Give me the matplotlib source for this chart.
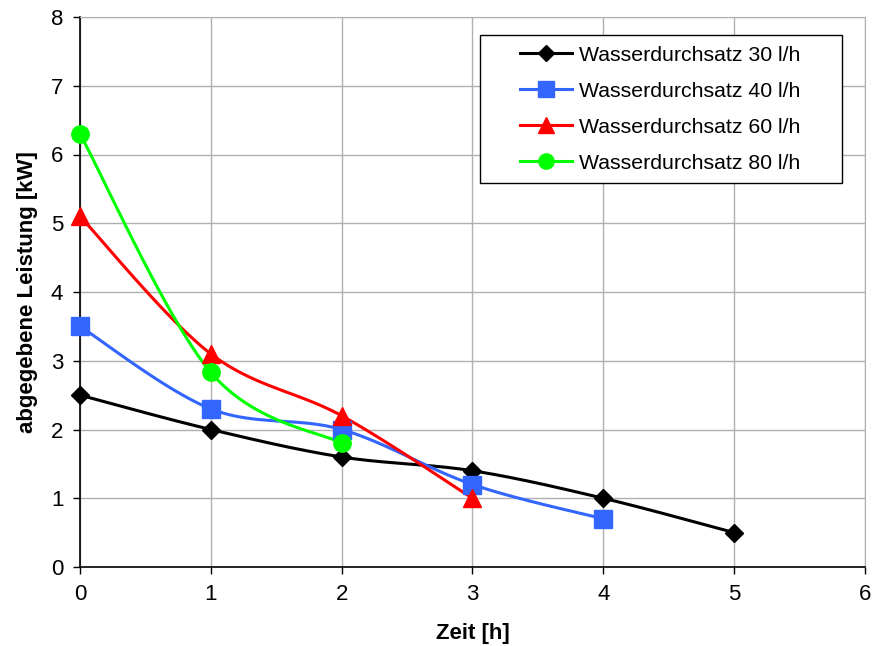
import numpy as np
import matplotlib
matplotlib.use("Agg")
import matplotlib.pyplot as plt
from matplotlib.patches import Rectangle

plt.rcParams['font.family'] = ['Liberation Sans', 'DejaVu Sans']

x30 = [0, 1, 2, 3, 4, 5]
y30 = [2.5, 2.0, 1.6, 1.4, 1.0, 0.5]
x40 = [0, 1, 2, 3, 4]
y40 = [3.5, 2.3, 2.0, 1.2, 0.7]
x60 = [0, 1, 2, 3]
y60 = [5.1, 3.1, 2.2, 1.0]
x80 = [0, 1, 2]
y80 = [6.3, 2.83, 1.8]

labels = ["Wasserdurchsatz 30 l/h", "Wasserdurchsatz 40 l/h",
          "Wasserdurchsatz 60 l/h", "Wasserdurchsatz 80 l/h"]
colors = ["#000000", "#3366FF", "#FF0000", "#00FF00"]
markers = ["D", "s", "^", "o"]
msizes = [9, 12.5, 13, 12.5]
leg_msizes = [8, 11, 12, 11]


def smooth(xs, ys, n=30):
    # Excel-style smoothed line: cubic Bezier with Catmull-Rom control points
    xs = np.asarray(xs, float)
    ys = np.asarray(ys, float)
    px, py = [], []
    m = len(xs)
    for i in range(m - 1):
        p0 = np.array([xs[max(i - 1, 0)], ys[max(i - 1, 0)]])
        p1 = np.array([xs[i], ys[i]])
        p2 = np.array([xs[i + 1], ys[i + 1]])
        p3 = np.array([xs[min(i + 2, m - 1)], ys[min(i + 2, m - 1)]])
        c1 = p1 + (p2 - p0) / 6.0
        c2 = p2 - (p3 - p1) / 6.0
        t = np.linspace(0, 1, n)[:, None]
        pts = ((1 - t) ** 3) * p1 + 3 * ((1 - t) ** 2) * t * c1 + 3 * (1 - t) * t ** 2 * c2 + t ** 3 * p2
        px.extend(pts[:, 0])
        py.extend(pts[:, 1])
    return px, py


fig = plt.figure(figsize=(8.73, 6.46), dpi=100)
ax = fig.add_axes([80 / 873, 1 - 567 / 646, (865 - 80) / 873, (567 - 17) / 646])

series = [(x30, y30), (x40, y40), (x60, y60), (x80, y80)]
for (xs, ys), lab, c, mk, ms, lms in zip(series, labels, colors, markers, msizes, leg_msizes):
    sx, sy = smooth(xs, ys)
    ax.plot(sx, sy, color=c, lw=2.2, zorder=3)
    ax.plot(xs, ys, linestyle='none', marker=mk, color=c, markersize=ms, zorder=4, clip_on=False)
    ax.plot([], [], color=c, lw=2.2, marker=mk, markersize=lms, label=lab)

ax.set_xlim(0, 6)
ax.set_ylim(0, 8)
ax.set_xticks(range(0, 7))
ax.set_yticks(range(0, 9))
ax.grid(True, color='#b0b0b0', lw=1)
ax.set_axisbelow(True)
for s in ['top', 'right']:
    ax.spines[s].set_color('#b0b0b0')
for s in ['left', 'bottom']:
    ax.spines[s].set_color('black')
    ax.spines[s].set_linewidth(1.2)
ax.tick_params(axis='both', direction='out', length=5, width=1, labelsize=16, pad=7, colors='black')
ax.set_xlabel("Zeit [h]", fontsize=16, fontweight='bold', labelpad=13)
ax.set_ylabel("abgegebene Leistung [kW]", fontsize=16, fontweight='bold', labelpad=9)

# legend frame
ax.add_patch(Rectangle((0.5096, 0.698), 0.9707 - 0.5096, 0.967 - 0.698, transform=ax.transAxes,
                       facecolor='white', edgecolor='black', lw=1.0, zorder=5, clip_on=False))
leg = ax.legend(loc='upper left', bbox_to_anchor=(0.561, 0.948), fontsize=15.3,
                frameon=False, handlelength=2.45, labelspacing=0.8, borderpad=0,
                borderaxespad=0, handletextpad=0.3)
leg.set_zorder(6)

fig.savefig("out.png", dpi=100)
